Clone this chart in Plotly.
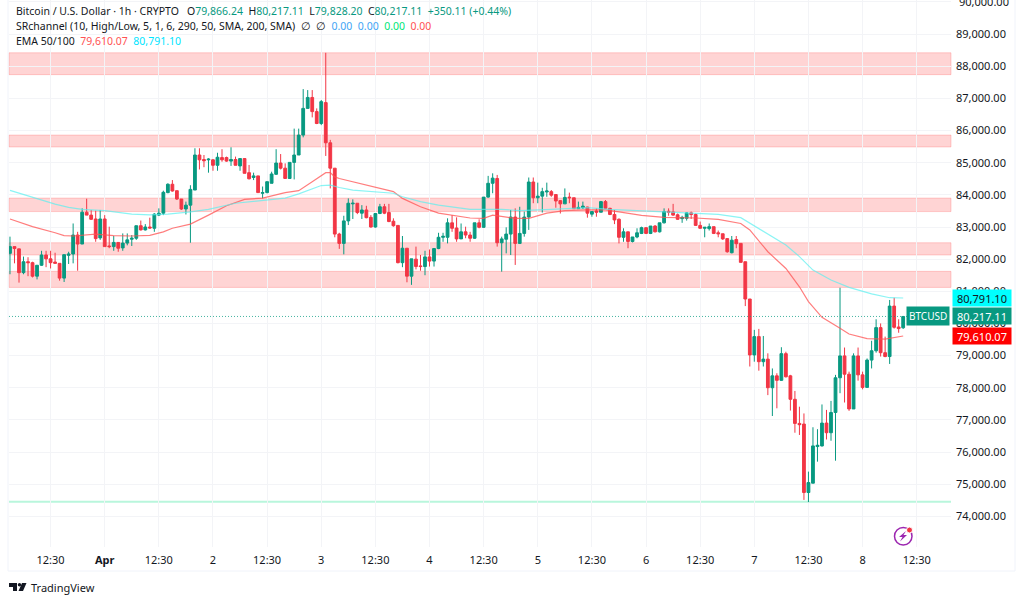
import pandas as pd
import plotly.graph_objects as go

# hourly candles
opens = [82180, 82390, 82320, 81580, 81920, 81890, 81470, 81810, 82130, 82010,
         81910, 81870, 81410, 82120, 82160, 82750, 82470, 83460, 83370, 83250,
         82660, 83250, 82410, 82390, 82520, 82350, 82500, 82620, 82650, 83040,
         82910, 83000, 82960, 83370, 83430, 84070, 84330, 84130, 83870, 83560,
         83680, 84150, 85240, 85100, 85090, 85090, 84920, 85160, 85160, 85050,
         85100, 84900, 85130, 84690, 84540, 84590, 84050, 84070, 84360, 84640,
         84990, 84830, 84510, 85010, 85240, 85860, 86690, 87030, 86590, 86220,
         86870, 85620, 84830, 82780, 82490, 83190, 83720, 83740, 83430, 83530,
         83300, 83000, 83420, 83630, 83450, 83180, 83050, 81890, 82340, 81470,
         82000, 81790, 81770, 82070, 81940, 82330, 82680, 82680, 83130, 82970,
         82630, 82850, 82750, 82650, 83130, 82990, 83930, 84360, 84510, 82510,
         82620, 82780, 83310, 82490, 82800, 83310, 84400, 83910, 83960, 84090,
         84100, 84010, 83820, 83720, 83930, 83910, 83570, 83600, 83620, 83400,
         83500, 83460, 83790, 83580, 83390, 83240, 82680, 82850, 82550, 82690,
         82800, 82980, 82800, 83030, 82850, 83130, 83490, 83470, 83380, 83260,
         83270, 83440, 83390, 83050, 82960, 82950, 83010, 82820, 82790, 82640,
         82200, 82610, 82490, 81920, 80760, 79020, 79590, 78810, 78890, 78000,
         78370, 78230, 79060, 78370, 77640, 76890, 76870, 74740, 75030, 76170,
         76190, 76900, 76600, 77230, 78310, 78990, 78420, 77340, 78990, 78400,
         78010, 78860, 79150, 79870, 79090, 78970, 80540, 79890, 79866.24]
highs = [82700, 82390, 82320, 82080, 82060, 81920, 81810, 82260, 82260, 82260,
         82200, 81870, 82140, 82230, 83110, 82850, 83580, 83880, 83530, 83510,
         83530, 83370, 83010, 82720, 82520, 82800, 82800, 82750, 83040, 83200,
         83090, 83290, 83430, 83580, 84130, 84360, 84460, 84130, 83870, 83790,
         84300, 85450, 85450, 85240, 85140, 85110, 85310, 85420, 85190, 85480,
         85190, 85130, 85130, 84930, 84690, 84590, 84260, 84410, 84720, 85420,
         85270, 84980, 85010, 86060, 86060, 87290, 87260, 87260, 86690, 86950,
         88420, 85710, 84830, 82820, 83350, 83890, 83860, 83740, 83680, 83660,
         83370, 83420, 83720, 83720, 83720, 83270, 83050, 82720, 82340, 82010,
         82390, 82130, 82260, 82300, 82330, 82820, 82820, 83270, 83370, 83300,
         83110, 83010, 82850, 83130, 83240, 83930, 84590, 84670, 84620, 82700,
         82990, 83530, 83580, 83630, 83480, 84540, 84540, 84380, 84220, 84380,
         84150, 84010, 83840, 84200, 84070, 83910, 83790, 83790, 83630, 83500,
         83580, 83810, 83840, 83600, 83530, 83270, 82960, 82850, 82690, 82960,
         83010, 82980, 83030, 83060, 83130, 83580, 83580, 83720, 83420, 83350,
         83460, 83480, 83420, 83170, 82990, 83110, 83010, 82890, 82790, 82640,
         82720, 82720, 82490, 81920, 80760, 79800, 79830, 79610, 79070, 78600,
         78450, 79260, 79120, 78400, 77900, 77410, 77200, 75390, 76770, 76710,
         77480, 77310, 77590, 78400, 81110, 79250, 78500, 79070, 79250, 78500,
         78910, 79460, 80130, 80000, 79590, 80730, 80800, 80130, 80217.11]
lows = [81530, 81870, 81270, 81530, 81470, 81430, 81370, 81790, 81750, 81710,
        81870, 81330, 81290, 81850, 81870, 81640, 82470, 83370, 83220, 82540,
        82600, 82390, 82340, 82260, 82230, 82260, 82430, 82410, 82600, 82890,
        82890, 82950, 82850, 83340, 83370, 84050, 84100, 83840, 83530, 83390,
        82510, 84150, 84790, 84860, 84690, 84750, 84750, 85030, 85030, 84900,
        84920, 84750, 84670, 84480, 84460, 84070, 83890, 84050, 84360, 84620,
        84790, 84500, 84500, 84480, 85240, 85790, 86690, 86410, 86200, 86170,
        85210, 84200, 82680, 82320, 82150, 83060, 83250, 83400, 83250, 83270,
        82980, 82980, 83400, 83400, 83150, 83010, 81870, 81750, 81280, 81200,
        81680, 81640, 81500, 81770, 81770, 82310, 82540, 82490, 82850, 82540,
        82630, 82650, 82540, 82630, 82960, 82980, 83910, 84050, 82390, 81610,
        82180, 82130, 81820, 82470, 82700, 82910, 83740, 83740, 83450, 83940,
        83940, 83600, 83420, 83720, 83740, 83560, 83560, 83560, 83290, 83320,
        83320, 83460, 83560, 83370, 83090, 82490, 82540, 82340, 82520, 82650,
        82780, 82780, 82780, 82830, 82830, 83110, 83350, 83350, 83220, 83130,
        83200, 83250, 83040, 82950, 82680, 82890, 82780, 82680, 82600, 82200,
        82180, 82340, 81900, 80540, 78660, 78810, 78530, 78660, 77770, 77120,
        77360, 78210, 78320, 77290, 76600, 76530, 74510, 74440, 75030, 75700,
        76170, 76390, 76350, 75730, 77830, 77540, 77280, 77340, 78220, 77950,
        78010, 78600, 79090, 78970, 78950, 78740, 79840, 79710, 79828.20]
closes = [82390, 82330, 81580, 81920, 81890, 81470, 81810, 82130, 82010, 81890,
          81870, 81410, 82140, 82160, 82750, 82470, 83460, 83370, 83240, 82640,
          83250, 82390, 82390, 82520, 82340, 82500, 82600, 82650, 83040, 82910,
          83000, 82970, 83400, 83430, 84080, 84330, 84120, 83870, 83560, 83680,
          84170, 85240, 85090, 85060, 85110, 84920, 85170, 85090, 85050, 85100,
          84920, 85130, 84670, 84500, 84590, 84070, 84070, 84410, 84650, 84990,
          84830, 84510, 85010, 85240, 85860, 86690, 87030, 86590, 86220, 86900,
          85620, 84830, 82780, 82490, 83190, 83740, 83740, 83450, 83530, 83290,
          83000, 83420, 83630, 83430, 83170, 83040, 81890, 82340, 81470, 82010,
          81770, 81770, 82070, 81940, 82330, 82680, 82710, 83130, 82960, 82630,
          82850, 82750, 82650, 83130, 82990, 83930, 84360, 84520, 82510, 82630,
          82780, 83310, 82490, 82800, 83310, 84400, 83910, 83960, 84100, 84120,
          83990, 83810, 83720, 83920, 83910, 83570, 83610, 83650, 83430, 83480,
          83460, 83790, 83580, 83390, 83220, 82680, 82850, 82550, 82690, 82820,
          82980, 82800, 83030, 82850, 83130, 83480, 83460, 83370, 83240, 83300,
          83440, 83390, 83050, 82960, 82990, 83010, 82800, 82790, 82630, 82230,
          82590, 82480, 81900, 80760, 79020, 79590, 78810, 78890, 78000, 78370,
          78230, 79060, 78340, 77640, 76890, 76850, 74740, 75050, 76190, 76210,
          76900, 76600, 77230, 78310, 78990, 78420, 77340, 78990, 78400, 78010,
          78860, 79150, 79870, 79090, 78970, 80540, 79880, 79840, 80217.11]

# moving averages, read at the bends only
ema100_at = [0, 5, 10, 13, 16, 21, 27, 31, 35, 40, 44, 50, 56, 61, 64, 69, 71, 73, 76, 80,
             85, 87, 91, 95, 98, 102, 109, 113, 120, 128, 133, 140, 145, 152, 157, 162,
             166, 172, 175, 178, 182, 186, 191, 195, 198]
ema100 = [84140, 83920, 83710, 83610, 83550, 83510, 83400, 83380, 83400, 83470, 83550,
          83740, 83840, 83900, 84030, 84290, 84300, 84230, 84150, 84100, 84050, 83940,
          83790, 83680, 83630, 83550, 83550, 83510, 83550, 83600, 83550, 83500, 83460,
          83420, 83390, 83290, 82960, 82440, 82080, 81660, 81350, 81120, 80920, 80800,
          80791.10]
ema50_at = [0, 5, 10, 12, 14, 16, 19, 23, 27, 31, 34, 36, 40, 44, 48, 52, 56, 61, 64, 67,
            70, 71, 72, 73, 76, 81, 85, 87, 91, 95, 98, 102, 105, 107, 112, 115, 119, 123,
            128, 132, 135, 140, 145, 152, 157, 162, 164, 168, 172, 175, 177, 180, 184, 186,
            190, 194, 198]
ema50 = [83250, 83010, 82820, 82730, 82720, 82740, 82780, 82730, 82720, 82740, 82850,
         82960, 83090, 83370, 83660, 83860, 83900, 84070, 84130, 84410, 84690, 84690,
         84560, 84510, 84410, 84230, 84100, 83890, 83630, 83430, 83360, 83280, 83270,
         83370, 83270, 83270, 83430, 83510, 83530, 83530, 83470, 83360, 83300, 83280,
         83240, 83110, 82910, 82230, 81710, 81140, 80680, 80190, 79850, 79670, 79530,
         79510, 79610.07]

zone_top = [88420, 85860, 83900, 82510, 81620]
zone_bottom = [87740, 85490, 83480, 82130, 81120]
support_line = 74450
last_price = 80217.11

price_ticks = list(range(74000, 91000, 1000))
time_ticks = pd.date_range("2025-03-31 12:30", periods=17, freq="12h")
time_labels = ["12:30", "<b>Apr</b>", "12:30", "2", "12:30", "3", "12:30", "4", "12:30",
               "5", "12:30", "6", "12:30", "7", "12:30", "8", "12:30"]

times = pd.date_range("2025-03-31 03:30", periods=len(opens), freq="h")

GREEN = "#089981"
RED = "#F23645"
INK = "#131722"
FONT = "Noto Sans"

# pixel position of the price pane inside the page
L, R, T, B = 9, 951, 0, 547


def fx(px):
    return (px - L) / (R - L)


def fy(py):
    return 1 - (py - T) / (B - T)


fig = go.Figure()

fig.add_trace(go.Candlestick(
    x=times, open=opens, high=highs, low=lows, close=closes,
    increasing=dict(line=dict(color=GREEN, width=1), fillcolor=GREEN),
    decreasing=dict(line=dict(color=RED, width=1), fillcolor=RED),
    hoverinfo="skip", showlegend=False,
))
fig.add_trace(go.Scatter(x=times[ema50_at], y=ema50, mode="lines", showlegend=False,
                         line=dict(color="rgba(255,82,82,0.75)", width=1.2)))
fig.add_trace(go.Scatter(x=times[ema100_at], y=ema100, mode="lines", showlegend=False,
                         line=dict(color="rgba(90,240,240,0.7)", width=1.2)))

shapes = []
for top, bottom in zip(zone_top, zone_bottom):
    shapes.append(dict(type="rect", xref="paper", yref="y", x0=0, x1=1, y0=bottom, y1=top,
                       fillcolor="rgba(255,82,82,0.25)", layer="below",
                       line=dict(color="rgba(255,82,82,0.25)", width=1)))
shapes.append(dict(type="line", xref="paper", yref="y", x0=0, x1=1, y0=support_line, y1=support_line,
                   line=dict(color="#B9F6DC", width=2), layer="below"))
shapes.append(dict(type="line", xref="paper", yref="y", x0=0, x1=1, y0=last_price, y1=last_price,
                   line=dict(color="rgba(8,153,129,0.75)", width=1, dash="1px,2px")))

# frame around the widget
shapes.append(dict(type="rect", xref="paper", yref="paper", x0=fx(8), x1=fx(1015), y0=fy(571), y1=fy(-5),
                   line=dict(color="#F0F3FA", width=1), layer="below"))

# TradingView mark
shapes.append(dict(type="path", xref="paper", yref="paper", fillcolor=INK, line=dict(width=0),
                   path=f"M{fx(9)},{fy(583)} L{fx(17)},{fy(583)} L{fx(17)},{fy(591)} L{fx(13)},{fy(591)} "
                        f"L{fx(13)},{fy(587)} L{fx(9)},{fy(587)} Z "
                        f"M{fx(22)},{fy(583)} L{fx(26.5)},{fy(583)} L{fx(23)},{fy(591)} L{fx(18.5)},{fy(591)} Z"))
shapes.append(dict(type="circle", xref="paper", yref="paper", fillcolor=INK, line=dict(width=0),
                   x0=fx(17.8), x1=fx(21.2), y0=fy(586.4), y1=fy(583)))

# flash icon, bottom right
shapes.append(dict(type="circle", xref="paper", yref="paper", fillcolor="rgba(0,0,0,0)",
                   line=dict(color="#9C27B0", width=1.5),
                   x0=fx(894.5), x1=fx(912), y0=fy(545), y1=fy(527.5)))
shapes.append(dict(type="path", xref="paper", yref="paper", fillcolor="#9C27B0", line=dict(width=0),
                   path=f"M{fx(906)},{fy(531)} L{fx(899)},{fy(537)} L{fx(902.5)},{fy(537)} L{fx(900)},{fy(541.5)} "
                        f"L{fx(907)},{fy(535)} L{fx(903.5)},{fy(535)} Z"))
shapes.append(dict(type="circle", xref="paper", yref="paper", fillcolor="#F23645",
                   line=dict(color="#FFFFFF", width=1),
                   x0=fx(906.5), x1=fx(912.5), y0=fy(533), y1=fy(527)))


def header(py, text):
    return dict(xref="paper", yref="paper", x=fx(14), y=fy(py), xanchor="left", yanchor="middle",
                text=text, showarrow=False, align="left", font=dict(family=FONT, size=10.5, color=INK))


def price_tag(value, text, bg, color):
    return dict(xref="paper", yref="y", x=fx(952), y=value, xanchor="left", yanchor="middle",
                text=text, showarrow=False, width=56, height=14, bgcolor=bg, borderpad=1,
                font=dict(family=FONT, size=11, color=color))


def span(color, text):
    return f'<span style="color:{color}">{text}</span>'


annotations = [
    header(11, "Bitcoin / U.S. Dollar · 1h · CRYPTO   O" + span(GREEN, "79,866.24") + "  H" + span(GREEN, "80,217.11")
           + "  L" + span(GREEN, "79,828.20") + "  C" + span(GREEN, "80,217.11") + "  " + span(GREEN, "+350.11 (+0.44%)")),
    header(26, "SRchannel (10, High/Low, 5, 1, 6, 290, 50, SMA, 200, SMA)  ∅  ∅  " + span("#42A5F5", "0.00") + "  "
           + span("#42A5F5", "0.00") + "  " + span("#00E676", "0.00") + "  " + span("#FF5252", "0.00")),
    header(41, "EMA 50/100  " + span("#FF5252", "79,610.07") + "  " + span("#00E5FF", "80,791.10")),
    # top tick sits against the page edge and plotly drops it
    dict(xref="paper", yref="y", x=fx(957), y=90000, xanchor="left", yanchor="middle", text="90,000.00",
         showarrow=False, font=dict(family=FONT, size=11, color=INK)),
    price_tag(80791.10, "80,791.10", "#00FFFF", INK),
    price_tag(last_price, "80,217.11", GREEN, "#FFFFFF"),
    price_tag(79610.07, "79,610.07", "#FF0000", "#FFFFFF"),
    dict(xref="paper", yref="y", x=fx(950), y=last_price, xanchor="right", yanchor="middle", text="BTCUSD",
         showarrow=False, bgcolor=GREEN, borderpad=2, font=dict(family=FONT, size=10, color="#FFFFFF")),
    dict(xref="paper", yref="paper", x=fx(29), y=fy(587), xanchor="left", yanchor="middle", text="TradingView",
         showarrow=False, font=dict(family=FONT, size=11, color=INK)),
]

fig.update_layout(
    width=1024, height=603,
    margin=dict(l=L, r=1024 - R, t=T, b=603 - B, pad=0),
    plot_bgcolor="#FFFFFF", paper_bgcolor="#FFFFFF",
    showlegend=False, boxgap=0.12,
    shapes=shapes, annotations=annotations,
    font=dict(family=FONT, size=11, color=INK),
    xaxis=dict(
        type="date", range=["2025-03-31 03:17", "2025-04-08 20:06"],
        tickmode="array", tickvals=time_ticks, ticktext=time_labels, ticklabelstandoff=5,
        showgrid=True, gridcolor="#F3F4F7", gridwidth=1,
        rangeslider=dict(visible=False), showline=False, ticks="", zeroline=False,
    ),
    yaxis=dict(
        side="right", range=[73045, 90062],
        tickmode="array", tickvals=price_ticks, tickformat=",.2f", ticklabelstandoff=4,
        showgrid=True, gridcolor="#F3F4F7", gridwidth=1,
        showline=False, ticks="", zeroline=False,
    ),
)

# the page's default body margin would push the chart 8px in
fig.write_html("out.html", post_script="document.body.style.margin='0';", config={"displayModeBar": False})
